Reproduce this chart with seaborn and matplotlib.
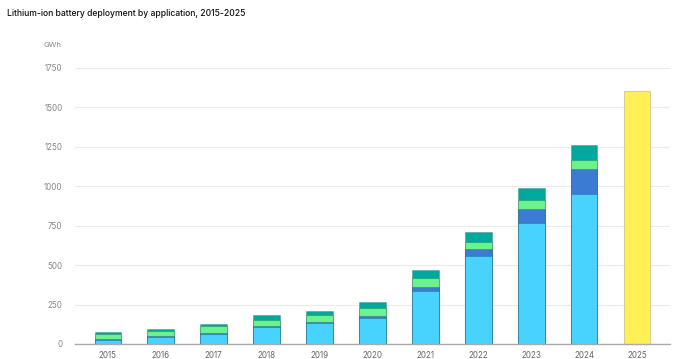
import numpy as np
import pandas as pd
import matplotlib
matplotlib.use("Agg")
import matplotlib.pyplot as plt
import seaborn as sns

years = ["2015", "2016", "2017", "2018", "2019", "2020",
         "2021", "2022", "2023", "2024", "2025"]

# stacked segments, bottom to top (GWh); 2025 has only a total
light_blue = [28, 47, 66, 105, 130, 166, 333, 557, 766, 949, 0]
dark_blue = [4, 3, 6, 10, 10, 11, 28, 42, 91, 158, 0]
green = [33, 34, 42, 35, 41, 48, 57, 46, 53, 59, 0]
teal = [12, 14, 15, 33, 31, 42, 51, 65, 80, 93, 0]
total_2025 = [0, 0, 0, 0, 0, 0, 0, 0, 0, 0, 1600]

colors = {
    "light_blue": "#48d3ff",
    "dark_blue": "#3b7bd4",
    "green": "#6cf28f",
    "teal": "#00a99d",
    "yellow": "#fff155",
}

sns.set_style("white")
plt.rcParams["font.family"] = ["Inter", "DejaVu Sans"]

df = pd.DataFrame({
    "year": years,
    "light_blue": light_blue,
    "dark_blue": dark_blue,
    "green": green,
    "teal": teal,
    "yellow": total_2025,
})
# cumulative heights, drawn tallest first so each layer covers the one above it
df["c_teal"] = df["light_blue"] + df["dark_blue"] + df["green"] + df["teal"]
df["c_green"] = df["light_blue"] + df["dark_blue"] + df["green"]
df["c_dark_blue"] = df["light_blue"] + df["dark_blue"]
df["c_light_blue"] = df["light_blue"]

fig = plt.figure(figsize=(6.73, 3.59), dpi=100)
ax = fig.add_axes([0.1114, 0.0418, 0.8841, 0.7696])

edge = (0, 0, 0, 0.16)
stacked = df[df["year"] != "2025"]
for col, key in [("c_teal", "teal"), ("c_green", "green"),
                 ("c_dark_blue", "dark_blue"), ("c_light_blue", "light_blue")]:
    sns.barplot(data=stacked, x="year", y=col, order=years, color=colors[key],
                saturation=1, width=0.5, edgecolor=edge, linewidth=0.8,
                errorbar=None, ax=ax)
sns.barplot(data=df[df["year"] == "2025"], x="year", y="yellow", order=years,
            color=colors["yellow"], saturation=1, width=0.5, edgecolor=edge,
            linewidth=0.8, errorbar=None, ax=ax)

ax.set_xlim(-0.62, 10.62)
ax.set_ylim(0, 1750)
ax.set_yticks(np.arange(0, 1751, 250))
ax.yaxis.grid(True, color="#ebebeb", linewidth=0.8)
ax.set_axisbelow(True)
ax.set_xlabel("")
ax.set_ylabel("")
for side in ["top", "right", "left"]:
    ax.spines[side].set_visible(False)
ax.spines["bottom"].set_color("#aaaaaa")
ax.spines["bottom"].set_linewidth(1)
ax.tick_params(axis="x", length=3, width=0.7, color="#aaaaaa",
               labelsize=5.8, labelcolor="#666666", pad=2)
ax.tick_params(axis="y", length=0, labelsize=5.8, labelcolor="#888888", pad=9)

fig.text(0.0104, 0.975, "Lithium-ion battery deployment by application, 2015-2025",
         fontsize=6.2, fontweight="medium", color="#111111", va="top", ha="left")
fig.text(0.064, 0.874, "GWh", fontsize=5.6, color="#888888", va="center", ha="left")

fig.savefig("out.png", dpi=100)
